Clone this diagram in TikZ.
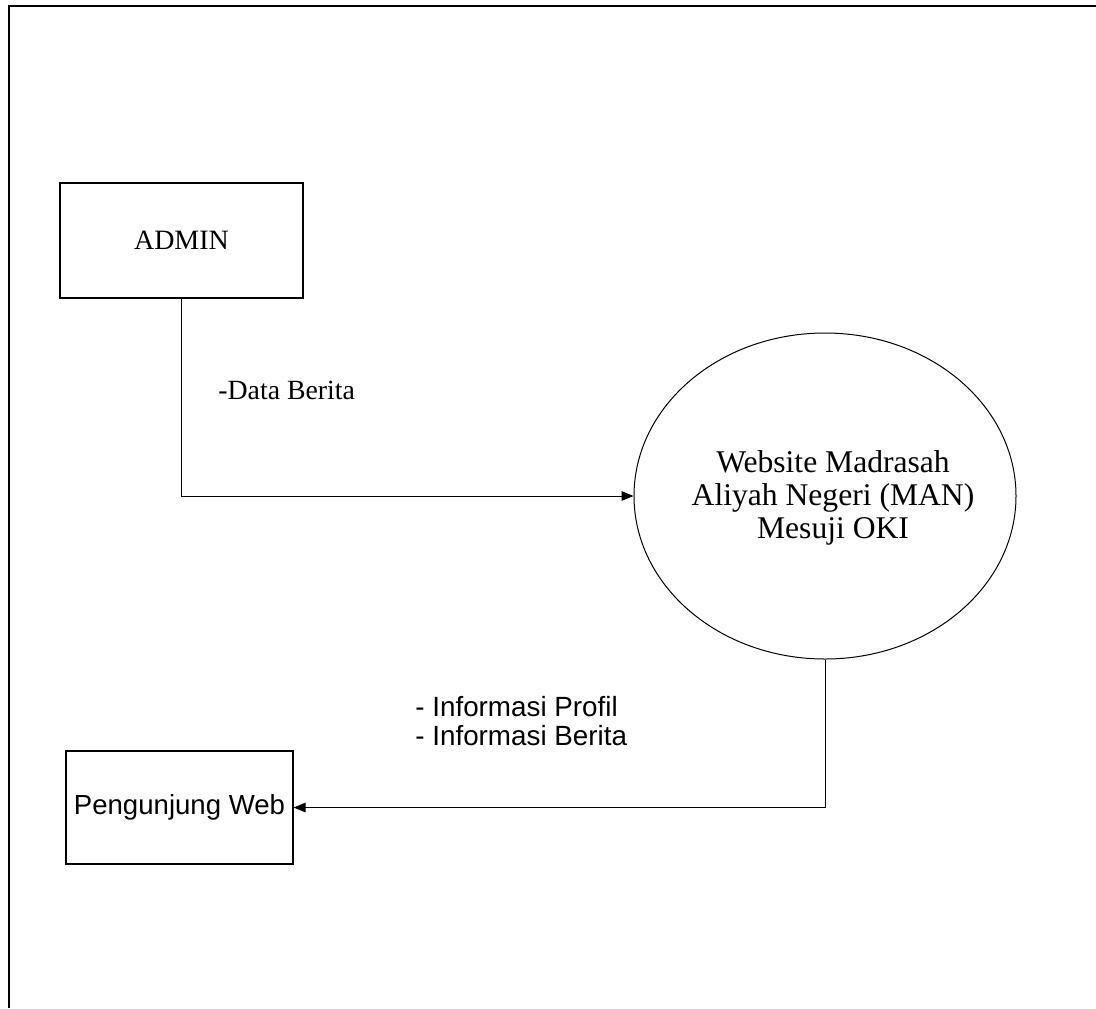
\documentclass[tikz,border=0pt]{standalone}
\usepackage{fontspec}
\setmainfont{Liberation Serif}
\newfontfamily\arialfont{Liberation Sans}
\usetikzlibrary{arrows.meta,shapes.geometric}

\begin{document}
\begin{tikzpicture}[x=0.5pt,y=-0.5pt,
  box/.style={draw,rectangle,inner sep=0pt,line width=0.6pt},
  flow/.style={draw,line width=0.5pt,-{Triangle[length=6pt,width=4.8pt]}}]
\useasboundingbox (0,0) rectangle (1096,1008);
% The frame
\draw[line width=0.7pt] (9,1008) -- (9,6) -- (1096,6);

% The entities
\node[box,minimum width=121.5pt,minimum height=57.5pt,font=\fontsize{14}{16}\selectfont] (admin) at (181.5,240.5) {ADMIN};
\node[box,minimum width=113.5pt,minimum height=56.5pt,font=\arialfont\fontsize{13.8}{16}\selectfont] (web) at (179.5,807.5) {Pengunjung Web};

% The process
\node[draw,ellipse,inner sep=0pt,line width=0.5pt,minimum width=191pt,minimum height=163pt,
  label={[xshift=4pt,yshift=-1pt,align=center,font=\fontsize{15.8}{16.4}\selectfont]center:Website Madrasah\\Aliyah Negeri (MAN)\\Mesuji OKI}] (site) at (825,496) {};

% The flows
\draw[flow] (admin.south) |- (site.west);
\draw[flow] (site.south) |- (web.east);

% Labels of the flows
\node[anchor=west,inner sep=0pt,font=\fontsize{13.9}{16}\selectfont] (lbladmin) at (218,390) {-Data Berita};
\node[anchor=west,inner sep=0pt,align=left,font=\arialfont\fontsize{13.9}{14.2}\selectfont] (lblweb) at (415,721) {- Informasi Profil\\- Informasi Berita};

\end{tikzpicture}
\end{document}
